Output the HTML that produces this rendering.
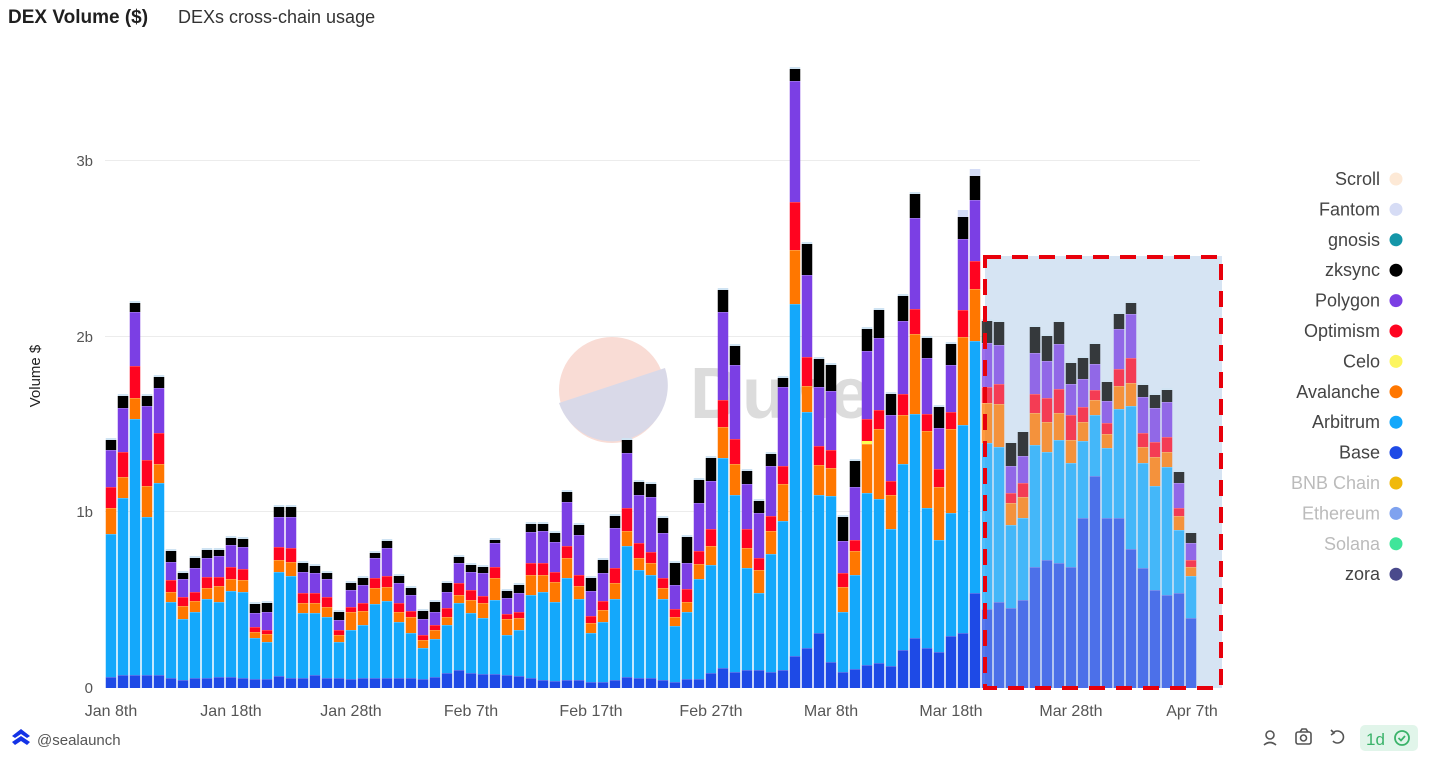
<!DOCTYPE html>
<html><head><meta charset="utf-8">
<style>
html,body{margin:0;padding:0;background:#fff;width:1432px;height:757px;overflow:hidden;font-family:"Liberation Sans",sans-serif;}
</style></head><body>
<svg id="s" width="1432" height="757" xmlns="http://www.w3.org/2000/svg" style="position:absolute;left:0;top:0">
<text x="8" y="23" font-size="19" fill="#1f1f1f" font-weight="bold" font-family="Liberation Sans,sans-serif">DEX Volume ($)</text>
<text x="178" y="23" font-size="18" fill="#333" font-family="Liberation Sans,sans-serif">DEXs cross-chain usage</text>
<g stroke="#ececec" stroke-width="1">
<line x1="105" x2="1200" y1="160.5" y2="160.5"/>
<line x1="105" x2="1200" y1="336.5" y2="336.5"/>
<line x1="105" x2="1200" y1="511.5" y2="511.5"/>
</g>
<g font-size="15" fill="#555" text-anchor="end" font-family="Liberation Sans,sans-serif">
<text x="93" y="166">3b</text><text x="93" y="342">2b</text><text x="93" y="517">1b</text><text x="93" y="693">0</text>
</g>
<text transform="translate(40,376) rotate(-90)" font-size="15" fill="#222" text-anchor="middle" font-family="Liberation Sans,sans-serif">Volume $</text>
<!-- watermark -->
<g>
<circle cx="612" cy="390" r="53" fill="#f9dcd5"/>
<path d="M559,403 L665,368 A53,53 0 0,1 559,403 Z" fill="#d9d9e8"/>
<text x="690" y="418" font-size="72" font-weight="bold" fill="#dcdcdc" font-family="Liberation Sans,sans-serif">Dune</text>
</g>
<rect x="985" y="256" width="237" height="432" fill="#d6e4f3"/>
<g id="bars"></g>
<rect x="985" y="257" width="236" height="431" fill="none" stroke="#e8000b" stroke-width="4" stroke-dasharray="16,11"/>
<g font-size="16" fill="#555" text-anchor="middle" font-family="Liberation Sans,sans-serif">
<text x="111" y="716">Jan 8th</text><text x="231" y="716">Jan 18th</text><text x="351" y="716">Jan 28th</text>
<text x="471" y="716">Feb 7th</text><text x="591" y="716">Feb 17th</text><text x="711" y="716">Feb 27th</text>
<text x="831" y="716">Mar 8th</text><text x="951" y="716">Mar 18th</text><text x="1071" y="716">Mar 28th</text>
<text x="1192" y="716">Apr 7th</text>
</g>
<g id="leg" font-size="18" text-anchor="end" font-family="Liberation Sans,sans-serif"></g>
<!-- footer -->
<g fill="#1433e6">
<path d="M12,736 L21,729 L30,736 L27,738 L21,734 L15,738 Z"/>
<path d="M12,742 L21,736 L30,742 L27,745 L21,741 L15,745 Z"/>
</g>
<text x="37" y="745" font-size="15" fill="#555" font-family="Liberation Sans,sans-serif">@sealaunch</text>
<g stroke="#555" stroke-width="1.6" fill="none">
<circle cx="1270" cy="735" r="4"/><path d="M1264,745 q6,-5 12,0"/>
<rect x="1296" y="732" width="15" height="12" rx="2"/><circle cx="1303.5" cy="738" r="3"/><path d="M1300,732 l2,-3 h4 l2,3"/>
<path d="M1333,733 a6,6 0 1,1 0,8" /><path d="M1331,730 l3,3 -3,2"/>
</g>
<rect x="1360" y="725" width="58" height="26" rx="5" fill="#e1f5ea"/>
<text x="1366" y="745" font-size="17" fill="#3bb36a" font-family="Liberation Sans,sans-serif">1d</text>
<circle cx="1402" cy="738" r="7" fill="none" stroke="#3bb36a" stroke-width="1.8"/>
<path d="M1398.5,738 l2.5,2.5 4,-4.5" fill="none" stroke="#3bb36a" stroke-width="1.8"/>
</svg>
<script>
var D=[[677,534,508,487,450,440],[675,498,477,452,408,396],[675,419,398,366,312,303],[675,517,486,460,406,396],[675,483,464,433,388,377],[678,602,592,580,562,551],[680,619,606,597,579,573],[678,612,601,592,568,558],[678,599,588,577,558,550],[677,602,586,577,556,550],[677,591,579,567,545,538],[678,592,580,569,547,539],[679,638,632,627,613,604],[679,642,634,630,612,603],[676,572,560,547,517,507],[678,576,562,548,517,507],[678,613,603,593,572,563],[675,613,603,593,573,566],[678,617,607,597,579,573],[678,642,635,630,620,612],[679,630,612,607,590,583],[678,625,611,603,585,578],[678,604,588,578,558,553],[678,601,587,576,548,541],[678,622,612,603,583,576],[678,633,617,611,595,588],[679,648,640,635,619,611],[677,639,630,625,612,602],[673,625,617,608,592,583],[670,603,595,583,563,557],[673,613,600,590,572,565],[674,618,603,596,573,567],[674,600,578,567,543,540],[675,635,619,614,598,591],[676,630,618,612,593,585],[678,595,575,563,532,524],[680,592,575,563,531,524],[681,602,582,572,542,533],[680,578,558,546,502,492],[680,599,586,575,535,525],[682,633,623,616,591,578],[682,622,610,601,573,560],[680,599,583,568,528,516],[677,546,531,508,453,440],[678,570,558,543,495,482],[678,575,563,552,497,484],[680,599,588,578,533,518],[682,626,617,609,585,563],[679,612,602,589,563,537],[679,579,564,551,503,480],[673,565,546,529,481,458],[668,458,427,400,312,290],[672,495,464,439,365,346],[670,568,548,529,484,471],[670,593,570,558,513,501],[672,554,531,516,466,454],[670,521,484,466,387,378],[656,304,250,202,81,69],[648,412,386,357,275,244],[633,495,465,446,387,359],[662,496,468,450,391,365],[672,612,587,573,541,517],[669,575,551,540,487,461],[665,493,444,419,351,329],[663,499,429,410,338,310],[666,529,495,481,415,394],[650,464,415,394,321,296],[638,414,334,309,218,194],[648,508,431,414,358,338],[652,540,487,469,428,407],[636,513,429,412,365,344],[633,425,337,310,239,217],[593,341,289,261,200,176],[609,443,403,387,343,321],[602,447,404,384,345,322],[608,525,503,493,466,443],[600,518,497,483,456,432],[567,445,413,394,353,327],[560,452,422,398,361,336],[563,440,413,389,344,322],[567,463,440,415,384,363],[518,441,422,407,379,358],[476,415,400,390,364,344],[518,448,434,423,401,382],[518,409,386,369,329,314],[549,406,383,358,314,303],[568,463,447,433,397,385],[590,486,457,442,408,395],[595,467,452,437,402,390],[593,530,516,508,483,472],[618,576,567,560,543,533]];
var C=["#1e4ae6","#14a8fb","#ff7700","#ff0420","#7b3fe4","#000000"];
var h="";
for(var i=0;i<D.length;i++){
 var x=111+12*i-5.25, d=D[i], prev=688, op=i>=73?' opacity="0.75"':'';
 h+='<g'+op+'>';
 for(var k=0;k<6;k++){
  var t=d[k]; if(prev-t>0) h+='<rect x="'+x+'" y="'+t+'" width="10.5" height="'+(prev-t)+'" fill="'+C[k]+'"/>';
  if(k<5) h+='<rect x="'+x+'" y="'+(t-0.5)+'" width="10.5" height="1" fill="#fff" opacity="0.45"/>';
  prev=t;
 }
 if(i==71||i==72) h+='<rect x="'+x+'" y="'+(d[5]-7)+'" width="10.5" height="7" fill="#d4dcf6"/>';
 else h+='<rect x="'+x+'" y="'+(d[5]-2)+'" width="10.5" height="2" fill="#cfe3f2"/>';
 if(i==63) h+='<rect x="'+x+'" y="'+(d[2]-3)+'" width="10.5" height="3" fill="#fcff52"/>';
 h+='</g>';
}
document.getElementById("bars").innerHTML=h;
var L=[["Scroll","#fde9d6","#444"],["Fantom","#d6dcf5","#444"],["gnosis","#1496a8","#444"],["zksync","#000","#444"],["Polygon","#7b3fe4","#444"],["Optimism","#ff0420","#444"],["Celo","#fcf55f","#444"],["Avalanche","#ff7700","#444"],["Arbitrum","#14a8fb","#444"],["Base","#1e4ae6","#444"],["BNB Chain","#f0b90b","#bbb"],["Ethereum","#7fa2ef","#bbb"],["Solana","#3fe59a","#bbb"],["zora","#4a4a8c","#444"]];
var g="";
for(var j=0;j<L.length;j++){var y=179+30.4*j;
 g+='<text x="1380" y="'+(y+6)+'" fill="'+L[j][2]+'">'+L[j][0]+'</text><circle cx="1396" cy="'+y+'" r="6.5" fill="'+L[j][1]+'"/>';}
document.getElementById("leg").innerHTML=g;
</script>
</body></html>
